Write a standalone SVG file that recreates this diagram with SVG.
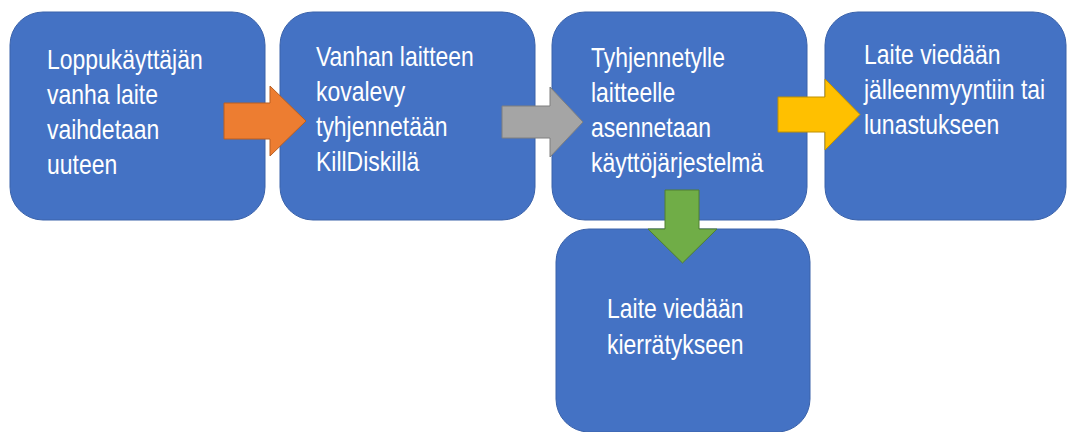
<svg xmlns="http://www.w3.org/2000/svg" width="1067" height="432" viewBox="0 0 1067 432">
  <style>
    .box { fill: #4472C4; stroke: #3A62AA; stroke-width: 1; }
    .lbl { font-family: "Liberation Sans", Arial, sans-serif; font-size: 28px; fill: #FFFFFF; }
    .orange { fill: #ED7D31; stroke: #B85F22; stroke-width: 1; }
    .gray { fill: #A5A5A5; stroke: #7F7F7F; stroke-width: 1; }
    .yellow { fill: #FFC000; stroke: #BF9000; stroke-width: 1; }
    .green { fill: #70AD47; stroke: #507E32; stroke-width: 1; }
  </style>
  <rect width="1067" height="432" fill="#FFFFFF"/>

  <g id="node-1">
    <rect class="box" x="10" y="12" width="255" height="208" rx="33"/>
    <g transform="translate(47,0) scale(0.82,1)">
      <text class="lbl"><tspan x="0" y="69">Loppukäyttäjän</tspan><tspan x="0" y="104">vanha laite</tspan><tspan x="0" y="139">vaihdetaan</tspan><tspan x="0" y="174">uuteen</tspan></text>
    </g>
  </g>

  <g id="node-2">
    <rect class="box" x="280" y="12" width="255" height="208" rx="33"/>
    <g transform="translate(316,0) scale(0.82,1)">
      <text class="lbl"><tspan x="0" y="66">Vanhan laitteen</tspan><tspan x="0" y="101">kovalevy</tspan><tspan x="0" y="136">tyhjennetään</tspan><tspan x="0" y="171">KillDiskillä</tspan></text>
    </g>
  </g>

  <g id="node-3">
    <rect class="box" x="552" y="12" width="255" height="208" rx="33"/>
    <g transform="translate(591,0) scale(0.82,1)">
      <text class="lbl"><tspan x="0" y="67">Tyhjennetylle</tspan><tspan x="0" y="102">laitteelle</tspan><tspan x="0" y="137">asennetaan</tspan><tspan x="0" y="172">käyttöjärjestelmä</tspan></text>
    </g>
  </g>

  <g id="node-4">
    <rect class="box" x="825" y="12" width="241" height="208" rx="33"/>
    <g transform="translate(864,0) scale(0.82,1)">
      <text class="lbl"><tspan x="0" y="64">Laite viedään</tspan><tspan x="0" y="99">jälleenmyyntiin tai</tspan><tspan x="0" y="134">lunastukseen</tspan></text>
    </g>
  </g>

  <g id="node-5">
    <rect class="box" x="556" y="229" width="254" height="203" rx="33"/>
    <g transform="translate(607,0) scale(0.82,1)">
      <text class="lbl"><tspan x="0" y="318">Laite viedään</tspan><tspan x="0" y="354">kierrätykseen</tspan></text>
    </g>
  </g>

  <g id="connectors">
    <polygon class="orange" points="224,103 270,103 270,86 306,121 270,156 270,139 224,139"/>
    <polygon class="gray" points="502,106 550,106 550,87 583,122 550,157 550,138 502,138"/>
    <polygon class="yellow" points="778,97 825,97 825,79 860,114.5 825,150 825,132 778,132"/>
    <polygon class="green" points="665,190 699,190 699,229 717,229 682.5,263 648,229 665,229"/>
  </g>
</svg>
